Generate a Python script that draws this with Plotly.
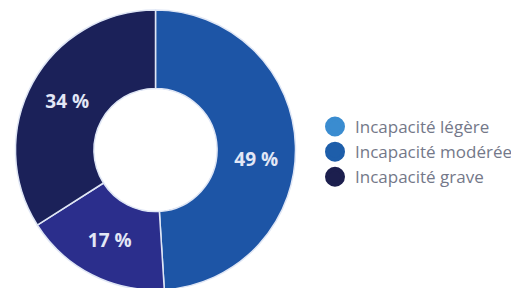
import plotly.graph_objects as go

labels = ["Incapacité légère", "Incapacité modérée", "Incapacité grave"]
values = [49, 17, 34]
slice_colors = ["#1d55a6", "#2b2e8c", "#1b2159"]
legend_colors = ["#3a8cd0", "#1e5eaa", "#1c1f4e"]
label_templates = ["\u00a0<br>%{value} %", "%{value} %", "%{value} %"]

# the page body has an 8px margin, so positions are offset by -8px
fig = go.Figure()
fig.add_trace(go.Pie(
    labels=labels, values=values, hole=0.44, sort=False, direction="clockwise",
    rotation=0, showlegend=False,
    marker=dict(colors=slice_colors, line=dict(color="#dfe6f5", width=1.5)),
    texttemplate=label_templates, textposition="inside", insidetextorientation="horizontal",
    textfont=dict(family="Open Sans", size=19, color="#e2e7f6", weight="bold"),
    domain=dict(x=[7.5/519, 287.5/519], y=[1 - 282/288, 1 - 2/288]),
    hoverinfo="label+percent",
))
for lab, col in zip(labels, legend_colors):
    fig.add_trace(go.Scatter(
        x=[None], y=[None], mode="markers", name=lab,
        marker=dict(color=col, size=16, symbol="circle", line=dict(color=col, width=4)),
    ))
fig.update_layout(
    width=519, height=288, margin=dict(l=0, r=0, t=0, b=0),
    paper_bgcolor="white", plot_bgcolor="white",
    xaxis=dict(visible=False), yaxis=dict(visible=False),
    legend=dict(x=307/519, y=0.5, xanchor="left", yanchor="middle",
                font=dict(family="Open Sans", size=17, color="#747889"),
                itemsizing="trace"),
)
fig.write_html("out.html")
